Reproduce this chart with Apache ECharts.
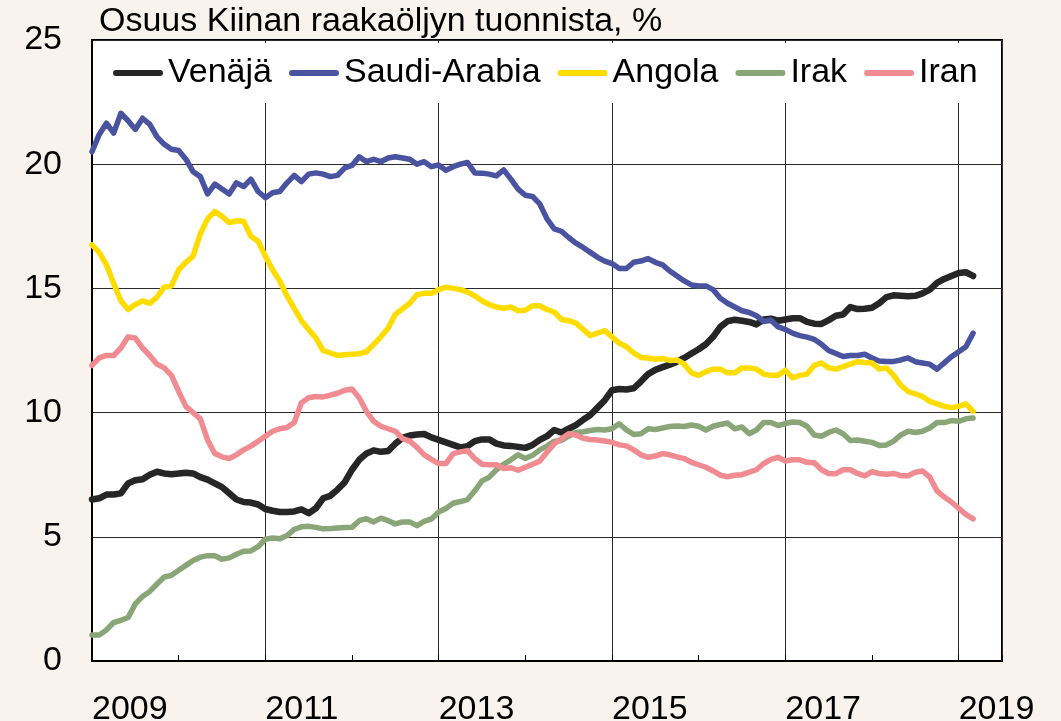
<!DOCTYPE html>
<html>
<head>
<meta charset="utf-8">
<script src="https://cdn.jsdelivr.net/npm/echarts@6/dist/echarts.min.js"></script>
<style>
    html, body { margin: 0; padding: 0; background: #f8f3ed; }
    #chart { width: 1061px; height: 721px; }
</style>
</head>
<body>
<div id="chart"></div>
<script>
    // kuukausidata alkaen tammikuusta 2009
    var startYear = 2009;
    var seriesNames = ['Venäjä', 'Saudi-Arabia', 'Angola', 'Irak', 'Iran'];
    var seriesColors = ['#262626', '#4a53a0', '#ffdc00', '#8aa679', '#f08b92'];
    var yTicks = [0, 5, 10, 15, 20, 25];

    var venaja = [
        6.5, 6.55, 6.7, 6.7, 6.75, 7.15, 7.28, 7.32, 7.5, 7.62,
        7.55, 7.52, 7.55, 7.58, 7.55, 7.4, 7.3, 7.15, 7.0, 6.75,
        6.5, 6.4, 6.38, 6.3, 6.12, 6.05, 6.0, 6.0, 6.02, 6.1,
        5.95, 6.15, 6.55, 6.65, 6.9, 7.2, 7.7, 8.1, 8.35, 8.48,
        8.42, 8.45, 8.75, 8.98, 9.08, 9.12, 9.14, 9.0, 8.9, 8.8,
        8.7, 8.6, 8.65, 8.85, 8.92, 8.92, 8.75, 8.68, 8.66, 8.62,
        8.58, 8.7, 8.9, 9.05, 9.3, 9.2, 9.35, 9.5, 9.71, 9.9,
        10.2, 10.5, 10.9, 10.95, 10.93, 10.98, 11.25, 11.55, 11.72, 11.83,
        11.93, 12.05, 12.2, 12.38, 12.55, 12.75, 13.05, 13.45, 13.68, 13.74,
        13.7, 13.65, 13.55, 13.75, 13.78, 13.7, 13.75, 13.8, 13.8, 13.65,
        13.58, 13.57, 13.72, 13.9, 13.95, 14.25, 14.17, 14.18, 14.22, 14.4,
        14.65, 14.72, 14.7, 14.68, 14.7, 14.8, 14.95, 15.22, 15.38, 15.5,
        15.62, 15.65, 15.5
    ];
    var saudi = [
        20.5, 21.2, 21.65, 21.25, 22.05, 21.75, 21.4, 21.85, 21.6, 21.1,
        20.8, 20.6, 20.55, 20.2, 19.7, 19.5, 18.8, 19.2, 19.0, 18.8,
        19.25, 19.1, 19.4, 18.9, 18.65, 18.85, 18.9, 19.25, 19.55, 19.3,
        19.6, 19.65, 19.6, 19.5, 19.55, 19.85, 19.95, 20.3, 20.1, 20.2,
        20.1, 20.25, 20.3, 20.25, 20.2, 20.0, 20.1, 19.9, 19.97, 19.75,
        19.9, 20.0, 20.07, 19.65, 19.64, 19.6, 19.53, 19.77, 19.4, 19.0,
        18.75, 18.7, 18.4, 17.8, 17.4, 17.3, 17.05, 16.82, 16.65, 16.45,
        16.25, 16.1, 16.0, 15.8, 15.8, 16.05, 16.1, 16.2, 16.05, 15.95,
        15.7, 15.5, 15.3, 15.14, 15.1, 15.1, 14.95, 14.6, 14.4, 14.25,
        14.1, 14.03, 13.9, 13.67, 13.73, 13.45, 13.35, 13.2, 13.1, 13.04,
        12.95, 12.75, 12.5, 12.38, 12.26, 12.3, 12.3, 12.35, 12.2, 12.08,
        12.06, 12.06, 12.12, 12.2, 12.05, 12.0, 11.95, 11.75, 12.0, 12.25,
        12.45, 12.65, 13.2
    ];
    var angola = [
        16.75, 16.45, 15.95, 15.2, 14.5, 14.15, 14.35, 14.5, 14.4, 14.65,
        15.05, 15.1, 15.75, 16.05, 16.3, 17.2, 17.8, 18.1, 17.9, 17.65,
        17.72, 17.7, 17.1, 16.9, 16.3, 15.75, 15.3, 14.7, 14.2, 13.7,
        13.35, 13.0, 12.5, 12.4, 12.3, 12.33, 12.35, 12.37, 12.45, 12.75,
        13.05, 13.4, 13.95, 14.18, 14.4, 14.75, 14.8, 14.8, 14.95, 15.05,
        15.0, 14.95, 14.85, 14.7, 14.5, 14.35, 14.25, 14.2, 14.25, 14.1,
        14.12, 14.3, 14.3, 14.15, 14.05, 13.75, 13.7, 13.6, 13.35, 13.1,
        13.2, 13.3, 13.05, 12.8, 12.65, 12.4, 12.22, 12.2, 12.15, 12.18,
        12.1, 12.12, 11.95, 11.6, 11.5, 11.65, 11.75, 11.75, 11.6, 11.6,
        11.8, 11.8, 11.75, 11.55, 11.5, 11.5, 11.7, 11.4, 11.5, 11.55,
        11.9, 12.0, 11.8, 11.75, 11.85, 11.95, 12.05, 12.02, 12.0, 11.75,
        11.8, 11.5, 11.1, 10.85, 10.75, 10.65, 10.45, 10.35, 10.25, 10.2,
        10.25, 10.35, 10.05
    ];
    var irak = [
        1.05, 1.05, 1.25, 1.55, 1.64, 1.75, 2.3, 2.6, 2.8, 3.1,
        3.38, 3.45, 3.65, 3.85, 4.05, 4.18, 4.24, 4.24, 4.1, 4.15,
        4.3, 4.42, 4.43, 4.6, 4.9, 4.95, 4.92, 5.05, 5.3, 5.4,
        5.42, 5.38, 5.32, 5.33, 5.35, 5.37, 5.38, 5.65, 5.73, 5.6,
        5.75, 5.65, 5.52, 5.6, 5.6, 5.45, 5.62, 5.72, 6.0, 6.14,
        6.35, 6.42, 6.5, 6.85, 7.25, 7.4, 7.7, 7.92, 8.1, 8.3,
        8.15, 8.28, 8.5, 8.65, 8.84, 8.88, 9.05, 9.2, 9.23, 9.28,
        9.32, 9.3, 9.35, 9.55, 9.3, 9.12, 9.15, 9.35, 9.32, 9.38,
        9.44, 9.46, 9.44, 9.5, 9.45, 9.3, 9.45, 9.52, 9.58, 9.35,
        9.42, 9.15, 9.3, 9.6, 9.6, 9.48, 9.56, 9.62, 9.6, 9.45,
        9.1, 9.05, 9.2, 9.3, 9.15, 8.88, 8.9, 8.85, 8.8, 8.68,
        8.7, 8.85, 9.1, 9.25, 9.2, 9.25, 9.38, 9.6, 9.6, 9.68,
        9.65, 9.75, 9.78
    ];
    var iran = [
        11.9, 12.2, 12.3, 12.3, 12.6, 13.05, 13.0, 12.6, 12.3, 11.95,
        11.8, 11.5, 10.85, 10.25, 10.0, 9.75, 8.9, 8.35, 8.22, 8.15,
        8.3, 8.5, 8.65, 8.85, 9.05, 9.25, 9.35, 9.4, 9.6, 10.4,
        10.6, 10.65, 10.63, 10.7, 10.78, 10.9, 10.95, 10.6, 10.05, 9.65,
        9.45, 9.35, 9.25, 8.95, 8.85, 8.6, 8.3, 8.12, 7.95, 7.95,
        8.35, 8.42, 8.47, 8.15, 7.92, 7.9, 7.9, 7.75, 7.78, 7.68,
        7.8, 7.92, 8.05, 8.4, 8.75, 8.95, 9.15, 9.1, 8.97, 8.92,
        8.9, 8.86, 8.8, 8.7, 8.66, 8.5, 8.3, 8.2, 8.25, 8.35,
        8.3, 8.22, 8.15, 8.0, 7.9, 7.8, 7.65, 7.48, 7.42, 7.48,
        7.5, 7.6, 7.7, 7.95, 8.12, 8.2, 8.05, 8.1, 8.1, 8.0,
        7.98, 7.7, 7.55, 7.54, 7.7, 7.7, 7.55, 7.45, 7.62, 7.55,
        7.52, 7.55, 7.46, 7.46, 7.6, 7.65, 7.4, 6.85, 6.6, 6.4,
        6.15, 5.9, 5.72
    ];

    var fontFamily = '"Liberation Sans", Arial, sans-serif';
    var fontSize = 34;
    // pyöreäpäinen viiva legendaan
    var pillIcon = 'path://M3,0L47,0A3,3,0,0,1,47,6L3,6A3,3,0,0,1,3,0Z';

    function toPairs(values) {
        var out = [];
        for (let i = 0; i < values.length; i++) {
            out.push([i, values[i]]);
        }
        return out;
    }

    var allValues = [venaja, saudi, angola, irak, iran];
    var series = [];
    for (let s = 0; s < seriesNames.length; s++) {
        series.push({
            name: seriesNames[s],
            type: 'line',
            xAxisIndex: 0,
            data: toPairs(allValues[s]),
            symbol: 'none',
            showSymbol: false,
            color: seriesColors[s],
            lineStyle: {
                width: s === 0 ? 6.5 : 5.5,
                color: seriesColors[s],
                cap: 'round',
                join: 'round'
            }
        });
    }

    var chart = echarts.init(document.getElementById('chart'));
    var option = {
        animation: false,
        backgroundColor: '#f8f3ed',
        textStyle: { fontFamily: fontFamily },
        title: {
            text: 'Osuus Kiinan raakaöljyn tuonnista, %',
            left: 99,
            top: 5,
            padding: 0,
            textStyle: {
                fontFamily: fontFamily,
                fontSize: fontSize,
                fontWeight: 'normal',
                color: '#000'
            }
        },
        legend: {
            data: seriesNames.map(function (n) { return { name: n, icon: pillIcon }; }),
            left: 103,
            top: 43,
            padding: [13, 10, 13, 10],
            backgroundColor: '#fff',
            itemWidth: 50,
            itemHeight: 6,
            itemGap: 17,
            textStyle: {
                fontFamily: fontFamily,
                fontSize: fontSize,
                color: '#000'
            }
        },
        grid: {
            left: 92,
            right: 59,
            top: 40,
            bottom: 60,
            outerBoundsMode: 'none',
            containLabel: false,
            show: true,
            backgroundColor: '#fff',
            borderColor: '#000',
            borderWidth: 2
        },
        xAxis: [
            {
                type: 'value',
                min: 0,
                max: 126,
                interval: 24,
                axisLine: { show: true, lineStyle: { color: '#000', width: 2 } },
                axisTick: { show: false },
                axisLabel: {
                    margin: 32,
                    align: 'left',
                    color: '#000',
                    fontFamily: fontFamily,
                    fontSize: fontSize,
                    formatter: function (v) {
                        return v % 24 === 0 ? String(startYear + v / 12) : '';
                    }
                },
                splitLine: { show: true, lineStyle: { color: '#2b2b2b', width: 1 } }
            },
            {
                // vuosittaiset pienet väliviivat
                type: 'value',
                min: 0,
                max: 126,
                interval: 12,
                position: 'bottom',
                axisLine: { show: false },
                axisTick: { show: true, inside: true, length: 6, lineStyle: { color: '#000', width: 1 } },
                axisLabel: { show: false },
                splitLine: { show: false }
            }
        ],
        yAxis: {
            type: 'value',
            min: yTicks[0],
            max: yTicks[yTicks.length - 1],
            interval: 5,
            axisLine: { show: true, lineStyle: { color: '#000', width: 2 } },
            axisTick: { show: false },
            axisLabel: {
                margin: 30,
                color: '#000',
                fontFamily: fontFamily,
                fontSize: fontSize
            },
            splitLine: { show: true, lineStyle: { color: '#2b2b2b', width: 1 } }
        },
        series: series
    };
    chart.setOption(option);
    window.addEventListener('resize', chart.resize);
</script>
</body>
</html>
